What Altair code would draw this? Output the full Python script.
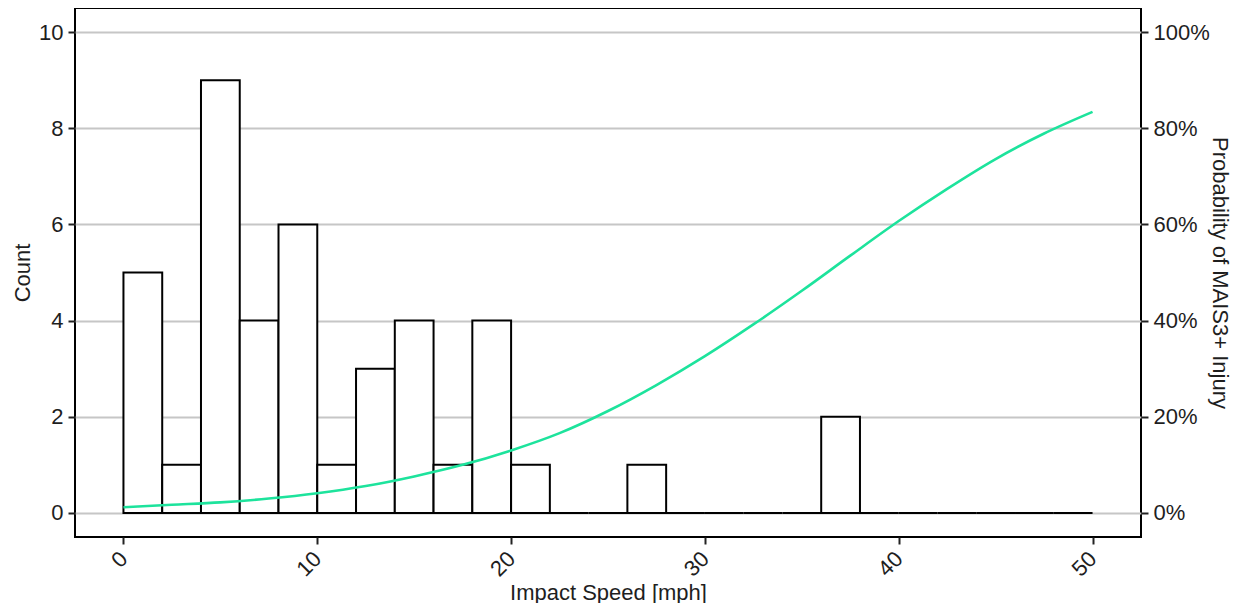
import altair as alt
import pandas as pd

# Histogram bins (mph) and counts
bin_start = [0, 2, 4, 6, 8, 10, 12, 14, 16, 18, 20, 22, 24, 26, 28, 30, 32, 34, 36, 38, 40, 42, 44, 46, 48]
counts    = [5, 1, 9, 4, 6, 1, 3, 4, 1, 4, 1, 0, 0, 1, 0, 0, 0, 0, 2, 0, 0, 0, 0, 0, 0]
bin_width = 2

# Injury risk curve
speed_curve = [0, 2.5, 5, 7.5, 10, 12.5, 15, 17.5, 20, 22.5, 25, 27.5, 30, 32.5, 35, 37.5, 40, 42.5, 45, 47.5, 50]
prob_curve = [0.012, 0.017, 0.022, 0.030, 0.041, 0.056, 0.076, 0.100, 0.130, 0.166, 0.212, 0.266,
              0.326, 0.392, 0.462, 0.535, 0.607, 0.674, 0.736, 0.789, 0.834]

x_ticks = [0, 10, 20, 30, 40, 50]
count_ticks = [0, 2, 4, 6, 8, 10]
prob_ticks = [0, 0.2, 0.4, 0.6, 0.8, 1.0]

hist = pd.DataFrame({"start": bin_start, "end": [b + bin_width for b in bin_start], "count": counts})
curve = pd.DataFrame({"speed": speed_curve, "prob": prob_curve})

FONT = "Liberation Sans"
TXT = "#1e1e1e"
xscale = alt.Scale(domain=[-2.5, 52.5], nice=False, zero=False)

bars = alt.Chart(hist).mark_rect(fill="white", stroke="black", strokeWidth=2).encode(
    x=alt.X("start:Q", scale=xscale,
            axis=alt.Axis(values=x_ticks, title="Impact Speed [mph]", labelAngle=-45,
                          labelAlign="right", labelBaseline="middle", labelPadding=11,
                          titleY=62, titleBaseline="alphabetic", grid=False)),
    x2="end:Q",
    y=alt.Y("count:Q", scale=alt.Scale(domain=[-0.5, 10.5], nice=False, zero=False),
            axis=alt.Axis(values=count_ticks, title="Count", grid=True, gridColor="#c6c6c6",
                          gridWidth=2, titleX=-46, titleBaseline="alphabetic", titleAngle=270)),
    y2=alt.datum(0),
)

line = alt.Chart(curve).mark_line(color="#1de39c", strokeWidth=2.6, interpolate="monotone").encode(
    x=alt.X("speed:Q", scale=xscale),
    y=alt.Y("prob:Q", scale=alt.Scale(domain=[-0.05, 1.05], nice=False, zero=False),
            axis=alt.Axis(values=prob_ticks, format=".0%", orient="right", grid=False,
                          title="Probability of MAIS3+ Injury", titleX=71,
                          titleBaseline="alphabetic", titleAngle=90)),
)

chart = alt.layer(bars, line).resolve_scale(y="independent").properties(
    width=1066, height=529,
    autosize=alt.AutoSizeParams(type="none"),
    padding={"left": 67, "top": 0, "right": 92, "bottom": 66},
).configure_view(
    stroke="black", strokeWidth=2
).configure_axis(
    labelFont=FONT, titleFont=FONT, labelFontSize=22, titleFontSize=22,
    labelColor=TXT, titleColor=TXT, titleFontWeight="normal",
    domain=False, tickColor="#222222", tickWidth=2, tickSize=7, labelPadding=5,
)

chart.save("out.html", embed_options={"renderer": "svg", "actions": False})
